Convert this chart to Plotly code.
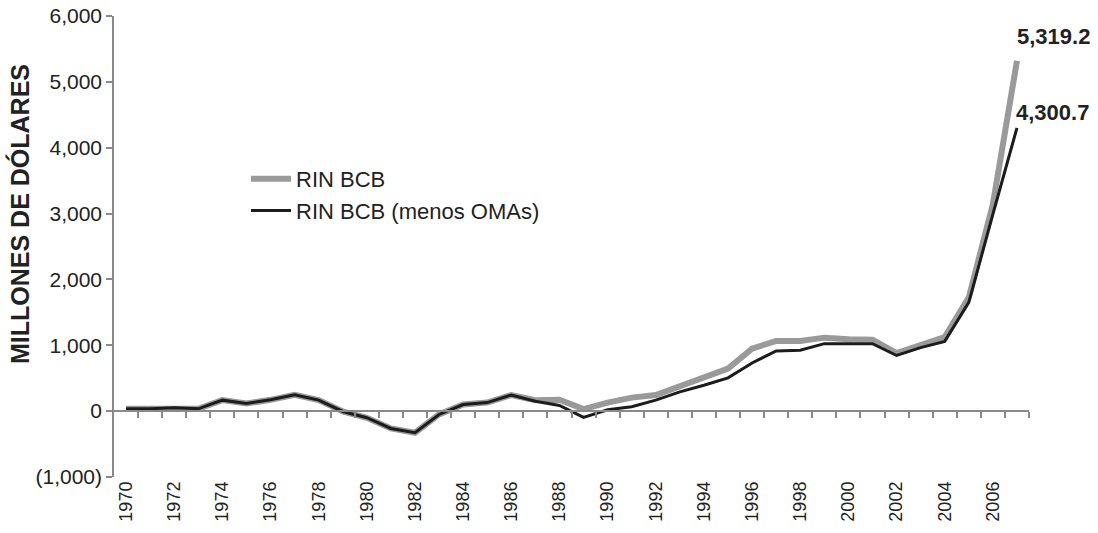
import plotly.graph_objects as go

years = list(range(1970, 2008))
rin_bcb = [35, 35, 50, 35, 167, 116, 172, 247, 167, -5, -100, -263, -328, -50,
           100, 130, 245, 167, 172, 30, 130, 205, 245, 384, 510, 646, 950, 1066,
           1066, 1116, 1091, 1086, 880, 995, 1125, 1727, 3141, 5319.2]
rin_bcb_omas = [35, 35, 50, 35, 167, 116, 172, 247, 167, -5, -100, -263, -328, -50,
                100, 130, 245, 150, 86, -95, 20, 66, 167, 293, 394, 505, 732, 914,
                924, 1025, 1025, 1025, 845, 965, 1060, 1652, 2990, 4300.7]
label_years = list(range(1970, 2007, 2))
y_ticks = [-1000, 0, 1000, 2000, 3000, 4000, 5000, 6000]
y_ticktext = ["(1,000)", "0", "1,000", "2,000", "3,000", "4,000", "5,000", "6,000"]

FONT = "Liberation Sans, Arial, sans-serif"
TXT = "#222222"

fig = go.Figure()
fig.add_trace(go.Scatter(x=years, y=rin_bcb, mode="lines", name="RIN BCB",
                         line=dict(color="#9a9a9a", width=6)))
fig.add_trace(go.Scatter(x=years, y=rin_bcb_omas, mode="lines", name="RIN BCB (menos OMAs)",
                         line=dict(color="#1c1c1c", width=3)))
# helper trace to draw the category axis at y=0
fig.add_trace(go.Scatter(x=[years[0]], y=[None], xaxis="x2", showlegend=False,
                         hoverinfo="skip", mode="lines"))

fig.add_annotation(x=years[-1], y=rin_bcb[-1], text="<b>5,319.2</b>", showarrow=False,
                   xanchor="left", yanchor="middle", xshift=-2, yshift=24,
                   font=dict(family=FONT, size=22, color=TXT))
fig.add_annotation(x=years[-1], y=rin_bcb_omas[-1], text="<b>4,300.7</b>", showarrow=False,
                   xanchor="left", yanchor="middle", xshift=-3, yshift=15,
                   font=dict(family=FONT, size=22, color=TXT))
fig.add_annotation(xref="paper", yref="paper", x=(19 - 114) / 915, y=(477 - 214) / 461,
                   text="<b>MILLONES DE DÓLARES</b>", textangle=-90, showarrow=False,
                   xanchor="center", yanchor="middle",
                   font=dict(family=FONT, size=25, color=TXT))

fig.update_layout(
    width=1098, height=533,
    margin=dict(l=114, r=69, t=16, b=56, autoexpand=False),
    paper_bgcolor="white", plot_bgcolor="white",
    font=dict(family=FONT, color=TXT),
    showlegend=True,
    legend=dict(x=(246 - 114) / 915, y=(477 - 158) / 461, xanchor="left", yanchor="top",
                bgcolor="rgba(0,0,0,0)", font=dict(family=FONT, size=22, color=TXT),
                tracegroupgap=0, itemwidth=40),
    xaxis=dict(range=[1969.5, 2007.5], tickmode="array", tickvals=label_years,
               ticktext=[str(y) for y in label_years], tickangle=-90, automargin=False,
               showline=False, showgrid=False, zeroline=False, ticks="",
               tickfont=dict(family=FONT, size=18, color=TXT)),
    xaxis2=dict(range=[1969.5, 2007.5], overlaying="x", anchor="free", position=1 / 7,
                side="bottom", showline=True, linecolor="#8a8a8a", linewidth=1.5,
                ticks="outside", ticklen=6, tickcolor="#8a8a8a", tickwidth=1.5,
                tickmode="array", tickvals=[y + 0.5 for y in years], automargin=False,
                showticklabels=False, showgrid=False, zeroline=False),
    yaxis=dict(range=[-1000, 6000], tickmode="array", tickvals=y_ticks, ticktext=y_ticktext,
               showline=True, linecolor="#8a8a8a", linewidth=1.5, automargin=False,
               ticks="outside", ticklen=6, tickcolor="#8a8a8a", tickwidth=1.5,
               showgrid=False, zeroline=False,
               tickfont=dict(family=FONT, size=21, color=TXT)),
)

fig.write_html("out.html", config={"displayModeBar": False},
               post_script="document.body.style.margin='0';")
